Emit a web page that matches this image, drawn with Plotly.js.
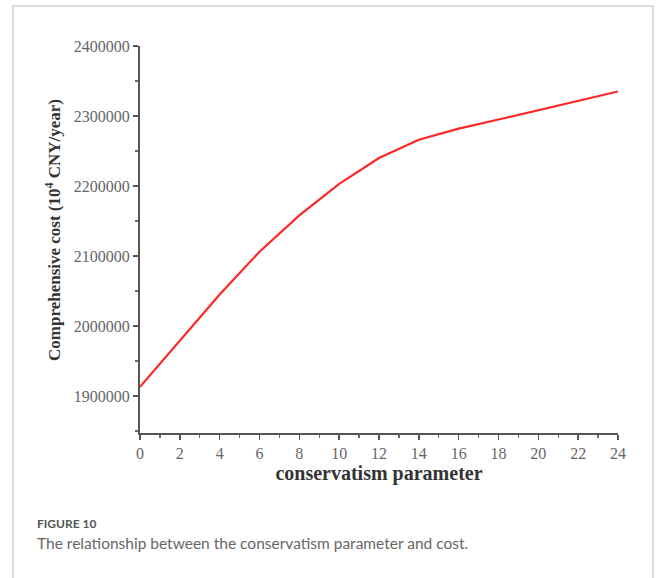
<!DOCTYPE html>
<html>
<head>
<meta charset="utf-8">
<script src="https://cdn.plot.ly/plotly-3.0.1.min.js"></script>
<style>
  html, body { margin: 0; padding: 0; background: #ffffff; }
  #wrap { position: relative; width: 656px; height: 578px; overflow: hidden; }
  #frame { position: absolute; left: 12px; top: 5px; width: 642px; height: 600px;
           border: 2px solid #dcdcdc; box-sizing: border-box; }
  #chart { position: absolute; left: 0; top: 0; width: 656px; height: 578px; }
</style>
</head>
<body>
<div id="wrap">
  <div id="frame"></div>
  <div id="chart"></div>
</div>
<script>
// Conservatism parameter (Γ) and the resulting comprehensive cost
const conservatism = [0, 2, 4, 6, 8, 10, 12, 14, 16, 18, 20, 22, 24];
const comprehensiveCost = [1913000, 1979000, 2045000, 2106000, 2158000, 2203000,
                           2240000, 2266000, 2282000, 2295000, 2308000, 2321000, 2335000];
const xTickValues = [0, 2, 4, 6, 8, 10, 12, 14, 16, 18, 20, 22, 24];
const yTickValues = [1900000, 2000000, 2100000, 2200000, 2300000, 2400000];

const serif = 'Liberation Serif, Times New Roman, serif';

// plot-area geometry in pixels, used to place the free-standing texts
const plotLeft = 140, plotTop = 46, plotW = 478, plotH = 387;
const px = (x) => (x - plotLeft) / plotW;
const py = (y) => (plotTop + plotH - y) / plotH;

const trace = {
  x: conservatism,
  y: comprehensiveCost,
  type: 'scatter',
  mode: 'lines',
  line: { color: '#ff2626', width: 2.2 },
  hoverinfo: 'skip'
};

const layout = {
  width: 656,
  height: 578,
  margin: { l: plotLeft, r: 656 - plotLeft - plotW, t: plotTop, b: 578 - plotTop - plotH },
  paper_bgcolor: 'rgba(0,0,0,0)',
  plot_bgcolor: 'rgba(0,0,0,0)',
  showlegend: false,
  xaxis: {
    range: [0, 24],
    tickvals: xTickValues,
    ticktext: xTickValues.map(String),
    showgrid: false,
    zeroline: false,
    showline: true,
    linecolor: '#555555',
    linewidth: 2,
    ticks: 'outside',
    ticklen: 5,
    tickwidth: 1.5,
    tickcolor: '#555555',
    minor: { dtick: 1, ticks: 'outside', ticklen: 3, tickwidth: 1.2, tickcolor: '#666666', showgrid: false },
    tickfont: { family: serif, size: 16, color: '#666666' },
    title: { text: 'conservatism parameter', standoff: 5,
             font: { family: serif, size: 20, color: '#333333', weight: 'bold' } }
  },
  yaxis: {
    range: [1847000, 2400000],
    tickvals: yTickValues,
    ticktext: yTickValues.map(String),
    showgrid: false,
    zeroline: false,
    showline: true,
    linecolor: '#555555',
    linewidth: 2,
    ticks: 'outside',
    ticklen: 5,
    tickwidth: 1.5,
    tickcolor: '#555555',
    minor: { dtick: 50000, ticks: 'outside', ticklen: 3, tickwidth: 1.2, tickcolor: '#666666', showgrid: false },
    tickfont: { family: serif, size: 16, color: '#666666' }
  },
  annotations: [
    {
      text: 'Comprehensive cost (10<sup>4</sup> CNY/year)',
      xref: 'paper', yref: 'paper',
      x: px(53), y: py(230),
      xanchor: 'center', yanchor: 'middle',
      textangle: -90,
      showarrow: false,
      font: { family: serif, size: 17, color: '#333333', weight: 'bold' }
    },
    {
      text: 'FIGURE 10',
      xref: 'paper', yref: 'paper',
      x: px(35), y: py(523),
      xanchor: 'left', yanchor: 'middle',
      showarrow: false,
      font: { family: 'Lato, sans-serif', size: 12, color: '#555555', weight: 'bold' }
    },
    {
      text: 'The relationship between the conservatism parameter and cost.',
      xref: 'paper', yref: 'paper',
      x: px(35), y: py(543),
      xanchor: 'left', yanchor: 'middle',
      showarrow: false,
      font: { family: 'Lato, sans-serif', size: 15.5, color: '#666666' }
    }
  ]
};

Plotly.newPlot('chart', [trace], layout, { displayModeBar: false, staticPlot: true });
</script>
</body>
</html>
